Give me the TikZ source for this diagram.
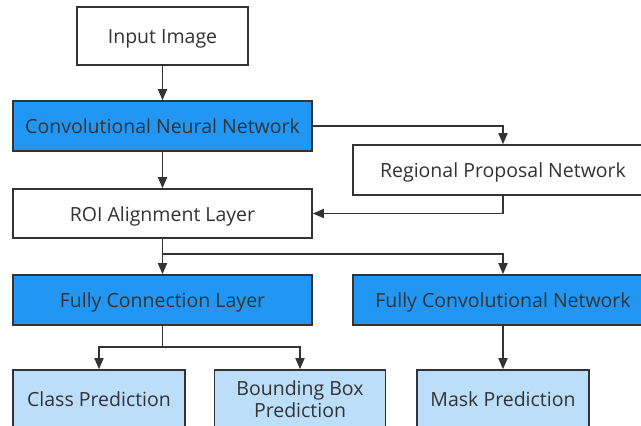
\documentclass[tikz,border=0pt]{standalone}
\usepackage{fontspec}
\setmainfont{Open Sans}
\usetikzlibrary{arrows.meta}
\definecolor{bluedark}{HTML}{2196F3}
\definecolor{bluelight}{HTML}{BBDEFB}
\definecolor{ink}{HTML}{333333}
\tikzset{
  box/.style={draw=ink, line width=1.6pt, text=ink, font=\fontsize{19.5}{22.5}\selectfont, align=center, inner sep=0pt},
  oneline/.style={text height=19pt, text depth=4pt},
  whitebox/.style={box, fill=white},
  darkbox/.style={box, oneline, fill=bluedark},
  lightbox/.style={box, fill=bluelight},
  conn/.style={draw=ink, line width=1.7pt, -{Triangle[length=11pt,width=9pt]}},
}
\begin{document}
\begin{tikzpicture}[x=1pt,y=-1pt]
\useasboundingbox (0,0) rectangle (641,426);
\clip (0,0) rectangle (641,426);
\fill[white] (0,0) rectangle (641,426);
\node[whitebox, oneline, minimum width=171pt, minimum height=58pt] (in) at (162.5,36) {Input Image};
\node[darkbox, minimum width=299pt, minimum height=50pt] (cnn) at (162.5,126) {Convolutional Neural Network};
\node[whitebox, oneline, minimum width=300pt, minimum height=50pt] (rpn) at (503,170) {Regional Proposal Network};
\node[whitebox, oneline, minimum width=299pt, minimum height=49pt] (roi) at (162.5,213.5) {ROI Alignment Layer};
\node[darkbox, minimum width=299pt, minimum height=50pt] (fcl) at (162.5,300) {Fully Connection Layer};
\node[darkbox, minimum width=300pt, minimum height=50pt] (fcn) at (503,300) {Fully Convolutional Network};
\node[lightbox, oneline, minimum width=172pt, minimum height=58pt] (cls) at (99,399) {Class Prediction};
\node[lightbox, minimum width=171pt, minimum height=58pt] (bbox) at (300,399) {Bounding Box\\Prediction};
\node[lightbox, oneline, minimum width=172pt, minimum height=58pt] (mask) at (503,399) {Mask Prediction};
\coordinate (split1) at (162.5,254);
\coordinate (split2) at (162.5,347);
\draw[conn] (in.south) -- (cnn.north);
\draw[conn] (cnn.south) -- (roi.north);
\draw[conn] (cnn.east) -| (rpn.north);
\draw[conn] (rpn.south) |- (roi.east);
\draw[conn] (roi.south) -- (fcl.north);
\draw[conn] (split1) -| (fcn.north);
\draw[conn] (fcl.south) -- (split2) -| (cls.north);
\draw[conn] (split2) -| (bbox.north);
\draw[conn] (fcn.south) -- (mask.north);
\end{tikzpicture}
\end{document}
